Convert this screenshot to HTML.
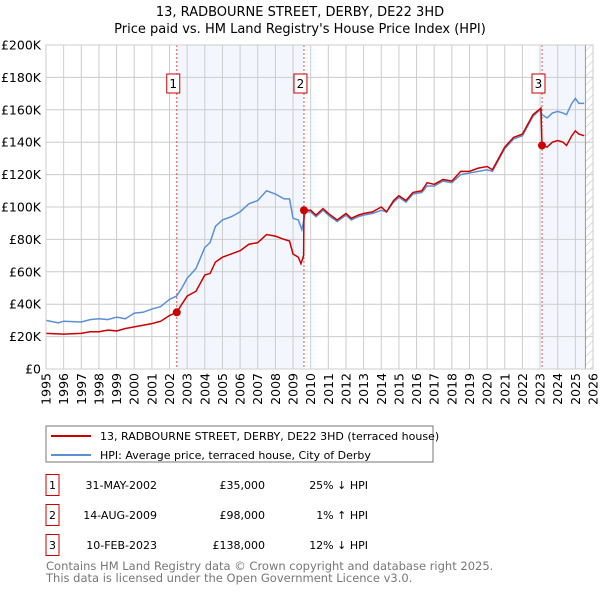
<!DOCTYPE html>
<html><head><meta charset="utf-8"><style>
body{margin:0;background:#fff;font-family:"Liberation Sans","DejaVu Sans",sans-serif}
svg text{font-family:"DejaVu Sans","Liberation Sans",sans-serif}
</style></head><body>
<svg id="c" width="600" height="590" xmlns="http://www.w3.org/2000/svg">
<text x="300" y="16" text-anchor="middle" font-size="13">13, RADBOURNE STREET, DERBY, DE22 3HD</text>
<text x="300" y="33" text-anchor="middle" font-size="13">Price paid vs. HM Land Registry's House Price Index (HPI)</text>
<g id="plot"></g>
<rect x="46" y="426" width="387" height="36" fill="#fff" stroke="#777"/>
<line x1="51" y1="436" x2="91" y2="436" stroke="#cc0000" stroke-width="2"/>
<text x="100" y="440" font-size="11">13, RADBOURNE STREET, DERBY, DE22 3HD (terraced house)</text>
<line x1="51" y1="455" x2="91" y2="455" stroke="#5b8fd6" stroke-width="2"/>
<text x="100" y="459" font-size="11">HPI: Average price, terraced house, City of Derby</text>
<g id="tbl" font-size="11"></g>
<text x="46" y="570" font-size="11.5" fill="#777">Contains HM Land Registry data © Crown copyright and database right 2025.</text>
<text x="46" y="582" font-size="11.5" fill="#777">This data is licensed under the Open Government Licence v3.0.</text>
</svg>
<script>
const hpiYears=[1995,1995.7,1996,1997,1997.5,1998,1998.5,1999,1999.5,2000,2000.5,2001,2001.5,2002,2002.4,2002.7,2003,2003.5,2004,2004.3,2004.6,2005,2005.5,2006,2006.5,2007,2007.5,2008,2008.5,2008.8,2009,2009.3,2009.5,2009.6,2009.7,2010,2010.3,2010.7,2011,2011.5,2012,2012.3,2012.7,2013,2013.5,2014,2014.3,2014.7,2015,2015.4,2015.8,2016.3,2016.6,2017,2017.5,2018,2018.5,2019,2019.5,2020,2020.3,2020.6,2021,2021.5,2022,2022.3,2022.6,2023,2023.1,2023.4,2023.7,2024,2024.3,2024.5,2024.8,2025,2025.2,2025.5];
const hpiValues=[30,28.5,29.5,29,30.5,31,30.5,32,31,34.5,35,37,38.5,43,45,50,56,62,75,78,88,92,94,97,102,104,110,108,105,105,93,92,86,91,97,97,94,98,95,91,95,92,94,95,96,98,97,103,106,103,108,109,113,113,116,115,120,121,122,123,122,128,136,142,144,150,156,160,157,155,158,159,158,157,164,167,164,164];
const priceYears=[1995,1996,1997,1997.5,1998,1998.5,1999,1999.5,2000,2000.5,2001,2001.5,2002,2002.41,2002.7,2003,2003.5,2004,2004.3,2004.6,2005,2005.5,2006,2006.5,2007,2007.5,2008,2008.5,2008.8,2009,2009.3,2009.45,2009.6,2009.62,2010,2010.3,2010.7,2011,2011.5,2012,2012.3,2012.7,2013,2013.5,2014,2014.3,2014.7,2015,2015.4,2015.8,2016.3,2016.6,2017,2017.5,2018,2018.5,2019,2019.5,2020,2020.3,2020.6,2021,2021.5,2022,2022.3,2022.6,2023.05,2023.11,2023.4,2023.7,2024,2024.3,2024.5,2024.8,2025,2025.2,2025.5];
const priceValues=[22,21.5,22,23,23,24,23.5,25,26,27,28,29.5,33,35,40,45,48,58,59,66,69,71,73,77,78,83,82,80,79,71,69,65,70,98,98,95,99,96,92,96,93,95,96,97,100,97,104,107,104,109,110,115,114,117,116,122,122,124,125,123,129,137,143,145,151,157,161,138,137,140,141,140,138,144,147,145,144];
const saleYears=[2002.41,2009.62,2023.11];
const saleValues=[35,98,138];
const saleLabels=["1","2","3"];
const saleDates=["31-MAY-2002","14-AUG-2009","10-FEB-2023"];
const salePrices=["£35,000","£98,000","£138,000"];
const saleHpi=["25% ↓ HPI","1% ↑ HPI","12% ↓ HPI"];
const yTicks=[0,20,40,60,80,100,120,140,160,180,200];
const yTickLabels=["£0","£20K","£40K","£60K","£80K","£100K","£120K","£140K","£160K","£180K","£200K"];
const dataEnd=2025.57;

const X0=46,X1=593,Y0=369,Y1=45;
const x=y=>X0+(y-1995)/(2026-1995)*(X1-X0);
const yv=v=>Y0-v/200*(Y0-Y1);
const NS="http://www.w3.org/2000/svg";
const g=document.getElementById('plot');
function mk(t,a,p){const e=document.createElementNS(NS,t);for(const k in a)e.setAttribute(k,a[k]);(p||g).appendChild(e);return e;}
let s=mk('rect',{x:x(saleYears[0]),y:Y1,width:x(saleYears[1])-x(saleYears[0]),height:Y0-Y1,fill:'#eef3fc',opacity:0.7});


s=mk('rect',{x:x(saleYears[2]),y:Y1,width:x(dataEnd)-x(saleYears[2]),height:Y0-Y1,fill:'#eef3fc',opacity:0.7});


const defs=mk('defs',{});
const pat=mk('pattern',{id:'h',width:6,height:6,patternUnits:'userSpaceOnUse',patternTransform:'rotate(45)'},defs);
mk('line',{x1:0,y1:0,x2:0,y2:6,stroke:'#bbb','stroke-width':1},pat);
s=mk('rect',{x:x(dataEnd),y:Y1,width:X1-x(dataEnd),height:Y0-Y1,fill:'url(#h)'});


for(let yr=1995;yr<=2026;yr++){
 const l=mk('line',{x1:x(yr),x2:x(yr),y1:Y1,y2:Y0,stroke:'#ccc','stroke-width':1});
 
 
 const t=mk('text',{x:0,y:0,'font-size':12.5,'text-anchor':'end',transform:`translate(${x(yr)+4.5},${Y0+4}) rotate(-90)`});
 t.textContent=yr;
 
 
}
yTicks.forEach((v,i)=>{
 const l=mk('line',{x1:X0,x2:X1,y1:yv(v),y2:yv(v),stroke:'#ccc','stroke-width':1});
 
 
 const t=mk('text',{x:X0-5,y:yv(v)+4.5,'font-size':12.5,'text-anchor':'end'});
 t.textContent=yTickLabels[i];
 
 
});
mk('line',{x1:x(dataEnd),x2:x(dataEnd),y1:Y1,y2:Y0,stroke:'#999','stroke-width':1});
saleYears.forEach((yr,i)=>{
 const l=mk('line',{x1:x(yr),x2:x(yr),y1:Y1,y2:Y0,stroke:'#e05050','stroke-width':1,'stroke-dasharray':'2,2'});
 
 
});
const hp=mk('polyline',{points:hpiYears.map((yr,i)=>x(yr)+','+yv(hpiValues[i])).join(' '),fill:'none',stroke:'#5b8fd6','stroke-width':1.5});


const pp=mk('polyline',{points:priceYears.map((yr,i)=>x(yr)+','+yv(priceValues[i])).join(' '),fill:'none',stroke:'#cc0000','stroke-width':1.5});


saleYears.forEach((yr,i)=>{
 const c=mk('circle',{cx:x(yr),cy:yv(saleValues[i]),r:4,fill:'#cc0000'});
 
 
 const r=mk('rect',{x:x(yr)-10,y:74,width:13,height:19,fill:'#fff',stroke:'#cc0000'});
 
 
 const t=mk('text',{x:x(yr)-3.5,y:88,'font-size':12,'text-anchor':'middle'});
 t.textContent=saleLabels[i];
 
 
});
mk('rect',{x:X0,y:Y1,width:X1-X0,height:Y0-Y1,fill:'none',stroke:'#ccc'});
const tb=document.getElementById('tbl');
saleLabels.forEach((lab,i)=>{
 const cy=485+i*30;
 const r=mk('rect',{x:46,y:cy-10.5,width:13,height:21,fill:'#fff',stroke:'#cc0000'},tb);
 
 
 const cells=[[52.5,'middle',lab,'table-index'],[157,'end',saleDates[i],'table-date'],[265,'end',salePrices[i],'table-price'],[368,'end',saleHpi[i],'table-hpi-diff']];
 cells.forEach(c=>{const t=mk('text',{x:c[0],y:cy+4,'text-anchor':c[1]},tb);t.textContent=c[2];
  
  });
});
</script>
</body></html>
